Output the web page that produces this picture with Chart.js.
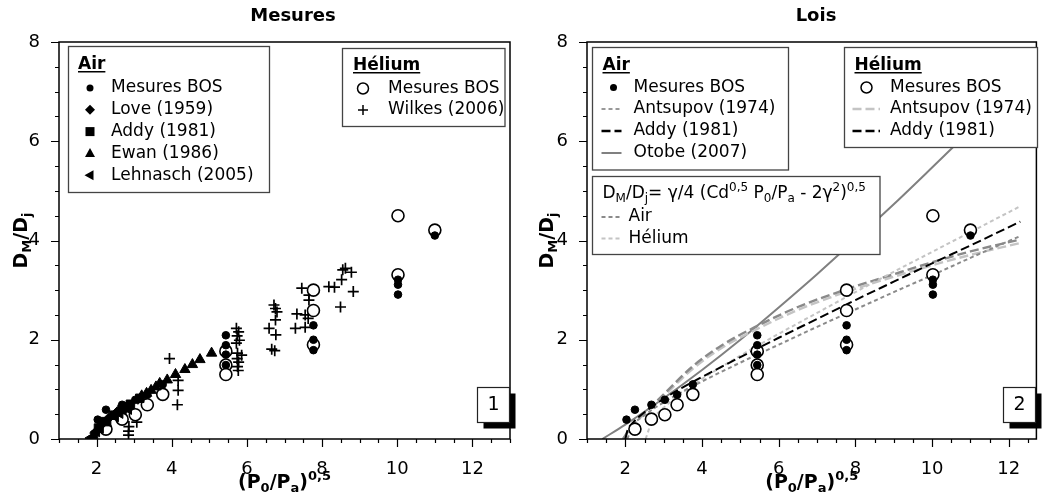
<!DOCTYPE html>
<html>
<head>
<meta charset="utf-8">
<script src="https://cdn.jsdelivr.net/npm/chart.js@4.4.1/dist/chart.umd.min.js"></script>
<style>
html, body { margin: 0; padding: 0; background: #fff; }
#wrap { position: relative; width: 1044px; height: 504px; }
.panel { position: absolute; top: 0; width: 522px; height: 504px; }
</style>
</head>
<body>
<div id="wrap">
  <div class="panel" style="left:0"><canvas id="mesuresChart" width="522" height="504"></canvas></div>
  <div class="panel" style="left:522px"><canvas id="loisChart" width="522" height="504"></canvas></div>
</div>
<script>
// Tick labels
const xTickLabels = [2, 4, 6, 8, 10, 12];
const yTickLabels = [0, 2, 4, 6, 8];

// Air - mesures BOS [x, y]
const airBos = [[2.03, 0.39], [2.25, 0.59], [2.68, 0.69], [3.03, 0.79], [3.35, 0.89], [3.76, 1.10],
    [5.44, 2.09], [5.44, 1.89], [5.44, 1.70], [5.44, 1.49],
    [7.77, 2.29], [7.77, 2.00], [7.77, 1.79],
    [10.02, 3.21], [10.02, 3.11], [10.02, 2.91], [11.0, 4.10]];
// Helium - mesures BOS
const heliumBos = [[2.25, 0.20], [2.68, 0.40], [3.03, 0.49], [3.35, 0.69], [3.76, 0.90],
    [5.44, 1.77], [5.44, 1.49], [5.44, 1.30],
    [7.77, 3.00], [7.77, 2.59], [7.77, 1.90],
    [10.02, 4.50], [10.02, 3.31], [11.0, 4.21]];
const love1959 = [[1.95, 0.12], [2.12, 0.28], [2.32, 0.42], [2.55, 0.55], [2.8, 0.66], [3.1, 0.80]];
const addy1981 = [[2.05, 0.22], [2.22, 0.35], [2.45, 0.48], [2.68, 0.60], [2.9, 0.70], [3.15, 0.82]];
const ewan1986 = [[3.2, 0.87], [3.33, 0.92], [3.45, 0.98], [3.58, 1.05], [3.68, 1.12], [3.88, 1.19],
    [4.1, 1.30], [4.35, 1.40], [4.55, 1.50], [4.75, 1.60], [5.06, 1.73]];
const lehnasch2005 = [[1.85, 0.02], [1.95, 0.06], [2.0, 0.15], [2.1, 0.22], [2.3, 0.35], [2.5, 0.45], [2.62, 0.52], [2.85, 0.60]];
const wilkes2006 = [[2.85, 0.08], [2.85, 0.16], [2.86, 0.25], [3.07, 0.34], [3.94, 1.62], [4.15, 0.69], [4.17, 0.98], [4.17, 1.18],
    [5.72, 2.23], [5.78, 2.16], [5.74, 2.08], [5.8, 1.99], [5.72, 1.93], [5.75, 1.73], [5.86, 1.69], [5.74, 1.62],
    [5.78, 1.55], [5.75, 1.46], [5.77, 1.38],
    [6.72, 2.70], [6.76, 2.63], [6.80, 2.56], [6.76, 2.40], [6.59, 2.23], [6.77, 2.10], [6.66, 1.81], [6.74, 1.78],
    [7.33, 2.52], [7.55, 2.50], [7.63, 2.43], [7.29, 2.23], [7.55, 2.25], [7.46, 3.04], [7.65, 2.90], [7.65, 2.80],
    [8.18, 3.07], [8.33, 3.06], [8.49, 2.66], [8.83, 2.97], [8.52, 3.21], [8.55, 3.41], [8.62, 3.44], [8.78, 3.36]];

// Lois (curves)
const otobeX = [1.4, 2, 3, 4, 5, 6, 7, 8, 9, 10, 11, 12, 12.7];
const otobeY = [0, 0.29, 0.82, 1.39, 2.00, 2.65, 3.32, 4.02, 4.73, 5.47, 6.22, 6.99, 7.56];
const addyX = [2, 2.05, 2.2, 2.5, 3, 3.5, 4, 5, 6, 7, 8, 9, 10, 11, 12.3];
const addyY = [0, 0.16, 0.33, 0.54, 0.81, 1.04, 1.25, 1.65, 2.04, 2.42, 2.80, 3.17, 3.54, 3.90, 4.38];
const antsupovX = [1.94, 2.2, 2.67, 3, 3.75, 4.5, 5.42, 6.5, 7.7, 9, 10, 11, 12.3];
const antsupovAirY = [0, 0.30, 0.65, 0.90, 1.46, 1.88, 2.27, 2.66, 3.00, 3.32, 3.56, 3.78, 4.02];
const antsupovHeY = [0, 0.28, 0.62, 0.86, 1.41, 1.83, 2.21, 2.60, 2.95, 3.27, 3.50, 3.71, 3.95];
const formAirX = [2.05, 2.2, 2.5, 3, 3.5, 4, 5, 6, 7, 8, 9, 10, 11, 12.3];
const formAirY = [0, 0.27, 0.48, 0.74, 0.96, 1.16, 1.54, 1.90, 2.26, 2.61, 2.96, 3.30, 3.65, 4.09];
const formHeX = [2.53, 2.7, 3, 3.5, 4, 5, 6, 7, 8, 9, 10, 11, 12.3];
const formHeY = [0, 0.37, 0.63, 0.94, 1.21, 1.68, 2.12, 2.54, 2.96, 3.37, 3.77, 4.17, 4.69];

const FONT = '"DejaVu Sans", "Liberation Sans", sans-serif';
const GRAY = '#8a8a8a';
const LIGHT = '#c4c4c4';

const toPts = arr => arr.map(([x, y]) => ({ x, y }));
const toLine = (xs, ys) => xs.map((x, i) => ({ x, y: ys[i] }));

function drawRich(ctx, parts, x, y, size, bold, align) {
    const fontOf = s => (bold ? 'bold ' : '') + s + 'px ' + FONT;
    ctx.save();
    ctx.textBaseline = 'alphabetic';
    ctx.textAlign = 'left';
    ctx.fillStyle = '#000';
    let total = 0;
    const items = parts.map(p => {
        const mode = p[1] || 'n';
        const s = mode === 'n' ? size : Math.round(size * 0.68);
        ctx.font = fontOf(s);
        const w = ctx.measureText(p[0]).width;
        total += w;
        return { t: p[0], s, w, dy: mode === 'sub' ? size * 0.22 : (mode === 'sup' ? -size * 0.42 : 0) };
    });
    let cx = align === 'center' ? x - total / 2 : x;
    items.forEach(it => {
        ctx.font = fontOf(it.s);
        ctx.fillText(it.t, cx, y + it.dy);
        cx += it.w;
    });
    ctx.restore();
    return total;
}

function marker(ctx, style, x, y) {
    ctx.save();
    ctx.fillStyle = '#000';
    ctx.strokeStyle = '#000';
    ctx.lineWidth = 1.5;
    ctx.beginPath();
    if (style === 'dot') { ctx.arc(x, y, 3.5, 0, Math.PI * 2); ctx.fill(); }
    else if (style === 'diamond') { ctx.moveTo(x, y - 5); ctx.lineTo(x + 5, y); ctx.lineTo(x, y + 5); ctx.lineTo(x - 5, y); ctx.closePath(); ctx.fill(); }
    else if (style === 'square') { ctx.rect(x - 4.5, y - 4.5, 9, 9); ctx.fill(); }
    else if (style === 'triangle') { ctx.moveTo(x, y - 5.5); ctx.lineTo(x + 5, y + 3.5); ctx.lineTo(x - 5, y + 3.5); ctx.closePath(); ctx.fill(); }
    else if (style === 'left') { ctx.moveTo(x - 5.5, y); ctx.lineTo(x + 3.5, y - 5); ctx.lineTo(x + 3.5, y + 5); ctx.closePath(); ctx.fill(); }
    else if (style === 'ring') { ctx.arc(x, y, 5.5, 0, Math.PI * 2); ctx.fillStyle = '#fff'; ctx.fill(); ctx.stroke(); }
    else if (style === 'plus') { ctx.moveTo(x - 5, y); ctx.lineTo(x + 5, y); ctx.moveTo(x, y - 5); ctx.lineTo(x, y + 5); ctx.stroke(); }
    ctx.restore();
}

function sample(ctx, x0, x1, y, color, dash, width) {
    ctx.save();
    ctx.strokeStyle = color;
    ctx.lineWidth = width;
    ctx.setLineDash(dash);
    ctx.beginPath();
    ctx.moveTo(x0, y);
    ctx.lineTo(x1, y);
    ctx.stroke();
    ctx.restore();
}

function box(ctx, x, y, w, h) {
    ctx.save();
    ctx.fillStyle = '#fff';
    ctx.strokeStyle = '#444';
    ctx.lineWidth = 1.3;
    ctx.fillRect(x, y, w, h);
    ctx.strokeRect(x, y, w, h);
    ctx.restore();
}

function heading(ctx, text, x, y) {
    const w = drawRich(ctx, [[text]], x, y, 17, true, 'left');
    ctx.save();
    ctx.fillStyle = '#000';
    ctx.fillRect(x, y + 2, w, 1.5);
    ctx.restore();
}

function label(ctx, text, x, y) {
    ctx.save();
    ctx.fillStyle = '#000';
    ctx.font = '17px ' + FONT;
    ctx.textBaseline = 'middle';
    ctx.fillText(text, x, y);
    ctx.restore();
}

function panelNumber(ctx, n, x, y) {
    ctx.save();
    ctx.fillStyle = '#000';
    ctx.fillRect(x + 6, y + 6, 32, 35);
    ctx.fillStyle = '#fff';
    ctx.fillRect(x, y, 32, 35);
    ctx.strokeStyle = '#222';
    ctx.lineWidth = 1.2;
    ctx.strokeRect(x, y, 32, 35);
    ctx.fillStyle = '#000';
    ctx.font = '19px ' + FONT;
    ctx.textAlign = 'center';
    ctx.textBaseline = 'middle';
    ctx.fillText(n, x + 16, y + 18);
    ctx.restore();
}

function axisDecor(chart, title, titleX, yTitleX) {
    const { ctx, chartArea: a, scales: { x, y } } = chart;
    ctx.save();
    ctx.strokeStyle = '#000';
    ctx.lineWidth = 1.2;
    ctx.beginPath();
    x.ticks.forEach(t => {
        const px = Math.round(x.getPixelForValue(t.value)) + 0.5;
        const len = xTickLabels.includes(t.value) ? 8 : 4;
        ctx.moveTo(px, a.bottom);
        ctx.lineTo(px, a.bottom + len);
    });
    y.ticks.forEach(t => {
        const py = Math.round(y.getPixelForValue(t.value)) + 0.5;
        const len = yTickLabels.includes(t.value) ? 8 : 4;
        ctx.moveTo(a.left, py);
        ctx.lineTo(a.left - len, py);
    });
    ctx.stroke();
    ctx.lineWidth = 1.5;
    ctx.strokeRect(a.left, a.top, a.width, a.height);
    ctx.restore();

    const cx = (a.left + a.right) / 2;
    drawRich(ctx, [[title]], titleX, 21, 18, true, 'center');
    drawRich(ctx, [['(P'], ['0', 'sub'], ['/P'], ['a', 'sub'], [')'], ['0,5', 'sup']], cx, 488, 19, true, 'center');
    ctx.save();
    ctx.translate(yTitleX, (a.top + a.bottom) / 2);
    ctx.rotate(-Math.PI / 2);
    drawRich(ctx, [['D'], ['M', 'sub'], ['/D'], ['j', 'sub']], 0, 0, 19, true, 'center');
    ctx.restore();
}

function scalesFor(xMax, yWidth) {
    return {
        x: {
            type: 'linear', min: 1, max: xMax,
            afterFit: s => { s.height = 65; },
            grid: { display: false }, border: { display: false },
            ticks: {
                stepSize: 0.5, autoSkip: false, includeBounds: false, maxRotation: 0, padding: 12,
                color: '#000', font: { size: 18, family: FONT },
                callback: v => xTickLabels.includes(v) ? String(v) : ''
            }
        },
        y: {
            type: 'linear', min: 0, max: 8,
            afterFit: s => { s.width = yWidth; },
            grid: { display: false }, border: { display: false },
            ticks: {
                stepSize: 0.5, autoSkip: false, includeBounds: false, padding: 11,
                color: '#000', font: { size: 18, family: FONT },
                callback: v => yTickLabels.includes(v) ? String(v) : ''
            }
        }
    };
}

const ptsBase = { type: 'scatter', showLine: false, borderColor: '#000', backgroundColor: '#000', borderWidth: 1 };

// Mesures panel
new Chart(document.getElementById('mesuresChart'), {
    type: 'scatter',
    data: {
        datasets: [
            { ...ptsBase, label: 'Air BOS', data: toPts(airBos), pointStyle: 'circle', pointRadius: 3.8, order: 1 },
            { ...ptsBase, label: 'Love', data: toPts(love1959), pointStyle: 'rectRot', pointRadius: 5, order: 2 },
            { ...ptsBase, label: 'Addy', data: toPts(addy1981), pointStyle: 'rect', pointRadius: 6, order: 2 },
            { ...ptsBase, label: 'Ewan', data: toPts(ewan1986), pointStyle: 'triangle', pointRadius: 6, order: 2 },
            { ...ptsBase, label: 'Lehnasch', data: toPts(lehnasch2005), pointStyle: 'triangle', pointRotation: -90, pointRadius: 6, order: 2 },
            { ...ptsBase, label: 'Wilkes', data: toPts(wilkes2006), pointStyle: 'crossRot', pointRotation: 45, pointRadius: 5.5, borderWidth: 1.7, order: 4 },
            { ...ptsBase, label: 'Helium BOS', data: toPts(heliumBos), pointStyle: 'circle', pointRadius: 6, backgroundColor: '#fff', borderWidth: 1.6, order: 3 },
        ]
    },
    options: {
        responsive: false, animation: false,
        layout: { padding: { top: 42, right: 3, bottom: 0, left: 0 } },
        plugins: { legend: { display: false }, tooltip: { enabled: false } },
        scales: scalesFor(13, 59)
    },
    plugins: [{
        id: 'mesuresDecor',
        afterDraw(chart) {
            const ctx = chart.ctx;
            axisDecor(chart, 'Mesures', 293, 27);
            // Air legend
            box(ctx, 68.5, 46.5, 201, 146);
            heading(ctx, 'Air', 78, 69);
            const airRows = [['dot', 'Mesures BOS'], ['diamond', 'Love (1959)'], ['square', 'Addy (1981)'],
                ['triangle', 'Ewan (1986)'], ['left', 'Lehnasch (2005)']];
            airRows.forEach((r, i) => {
                const yy = 88 + i * 21.8;
                marker(ctx, r[0], 90, yy);
                label(ctx, r[1], 111, yy);
            });
            // Helium legend
            box(ctx, 342.5, 48.5, 162.5, 78);
            heading(ctx, 'Hélium', 353, 70);
            marker(ctx, 'ring', 363, 88.5);
            label(ctx, 'Mesures BOS', 388, 88.5);
            marker(ctx, 'plus', 363, 110);
            label(ctx, 'Wilkes (2006)', 388, 110);
            panelNumber(ctx, '1', 477.5, 387.5);
        }
    }]
});

const lineBase = { type: 'line', showLine: true, pointRadius: 0, fill: false, borderWidth: 2, cubicInterpolationMode: 'monotone' };

// Lois panel
new Chart(document.getElementById('loisChart'), {
    type: 'scatter',
    data: {
        datasets: [
            { ...ptsBase, label: 'Air BOS', data: toPts(airBos), pointStyle: 'circle', pointRadius: 3.8, order: 1 },
            { ...ptsBase, label: 'Helium BOS', data: toPts(heliumBos), pointStyle: 'circle', pointRadius: 6, backgroundColor: '#fff', borderWidth: 1.6, order: 2 },
            { ...lineBase, label: 'Otobe', data: toLine(otobeX, otobeY), borderColor: '#808080', order: 9 },
            { ...lineBase, label: 'Antsupov He', data: toLine(antsupovX, antsupovHeY), borderColor: LIGHT, borderDash: [9, 4], borderWidth: 2.4, order: 8 },
            { ...lineBase, label: 'Antsupov Air', data: toLine(antsupovX, antsupovAirY), borderColor: GRAY, borderDash: [9, 4], borderWidth: 2.4, order: 7 },
            { ...lineBase, label: 'Formule He', data: toLine(formHeX, formHeY), borderColor: LIGHT, borderDash: [4, 3], order: 6 },
            { ...lineBase, label: 'Formule Air', data: toLine(formAirX, formAirY), borderColor: GRAY, borderDash: [4, 3], order: 5 },
            { ...lineBase, label: 'Addy', data: toLine(addyX, addyY), borderColor: '#000', borderDash: [9, 4], order: 4 },
        ]
    },
    options: {
        responsive: false, animation: false,
        layout: { padding: { top: 42, right: 2, bottom: 0, left: 0 } },
        plugins: { legend: { display: false }, tooltip: { enabled: false } },
        scales: scalesFor(12.72, 65)
    },
    plugins: [{
        id: 'loisDecor',
        afterDraw(chart) {
            const ctx = chart.ctx;
            axisDecor(chart, 'Lois', 294, 31);
            // Air legend
            box(ctx, 70.5, 47.5, 196, 122.5);
            heading(ctx, 'Air', 80.5, 70);
            marker(ctx, 'dot', 91.5, 87.5);
            label(ctx, 'Mesures BOS', 111.5, 87.5);
            sample(ctx, 79.5, 99.5, 109, '#999', [4, 3], 2);
            label(ctx, 'Antsupov (1974)', 111.5, 109);
            sample(ctx, 79.5, 99.5, 131, '#000', [9, 4], 2.4);
            label(ctx, 'Addy (1981)', 111.5, 131);
            sample(ctx, 79.5, 99.5, 153, '#808080', [], 2);
            label(ctx, 'Otobe (2007)', 111.5, 153);
            // Formula legend
            box(ctx, 70.5, 176.5, 287.5, 78);
            drawRich(ctx, [['D'], ['M', 'sub'], ['/D'], ['j', 'sub'], ['= γ/4 (Cd'], ['0,5', 'sup'], [' P'], ['0', 'sub'],
                ['/P'], ['a', 'sub'], [' - 2γ'], ['2', 'sup'], [')'], ['0,5', 'sup']], 80.5, 198, 17, false, 'left');
            sample(ctx, 79.5, 99.5, 217, GRAY, [4, 3], 2);
            label(ctx, 'Air', 106.5, 217);
            sample(ctx, 79.5, 99.5, 238.5, LIGHT, [4, 3], 2);
            label(ctx, 'Hélium', 106.5, 238.5);
            // Helium legend
            box(ctx, 322.5, 47.5, 193, 100);
            heading(ctx, 'Hélium', 332.5, 70);
            marker(ctx, 'ring', 344.5, 87.5);
            label(ctx, 'Mesures BOS', 368, 87.5);
            sample(ctx, 330.5, 358, 109, LIGHT, [9, 4], 2.4);
            label(ctx, 'Antsupov (1974)', 368, 109);
            sample(ctx, 330.5, 358, 131, '#000', [9, 4], 2.4);
            label(ctx, 'Addy (1981)', 368, 131);
            panelNumber(ctx, '2', 481.5, 387.5);
        }
    }]
});
</script>
</body>
</html>
